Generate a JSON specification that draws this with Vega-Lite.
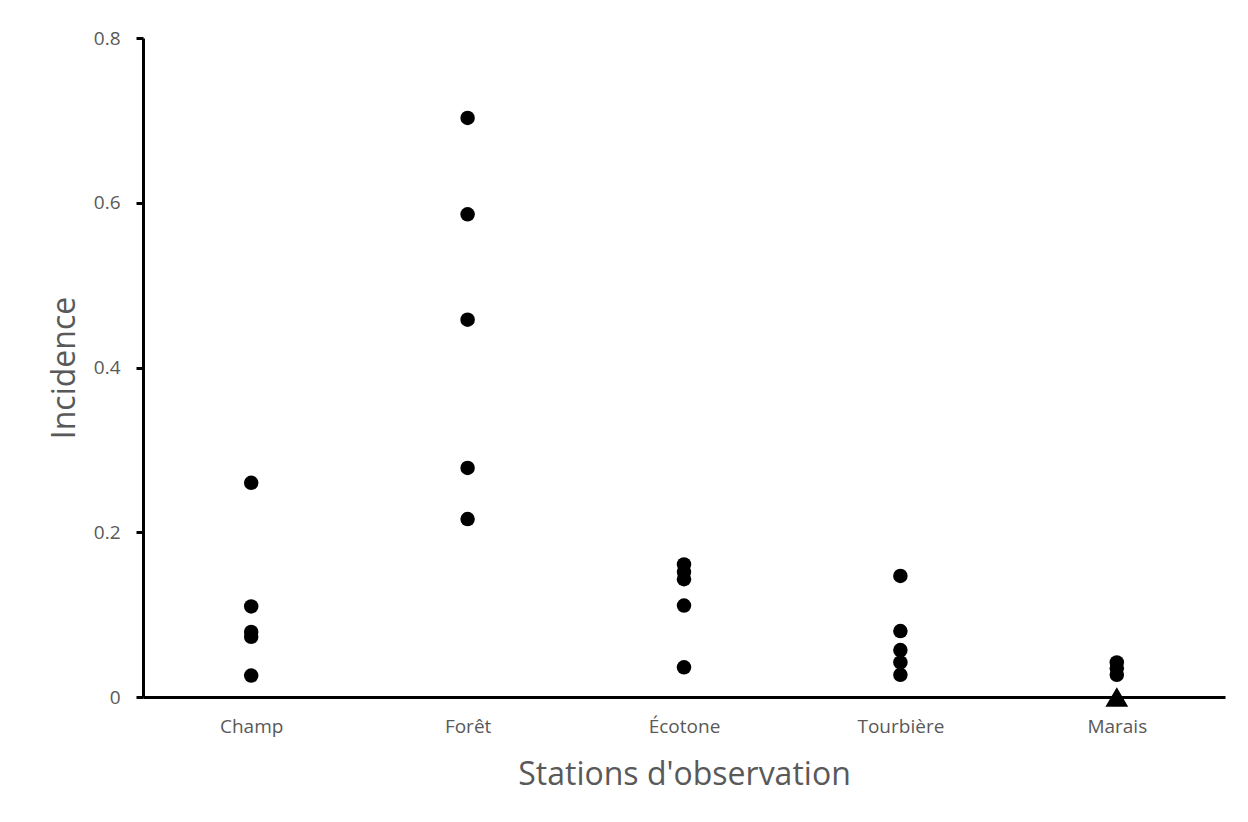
{
  "$schema": "https://vega.github.io/schema/vega-lite/v6.json",
  "autosize": "none",
  "width": 1082,
  "height": 659,
  "padding": {"left": 143, "top": 38, "right": 23, "bottom": 125},
  "background": "white",
  "config": {"view": {"stroke": null}, "font": "Open Sans"},
  "data": {"values": [
    {"station": "Champ", "incidence": 0.260, "type": "obs"},
    {"station": "Champ", "incidence": 0.110, "type": "obs"},
    {"station": "Champ", "incidence": 0.079, "type": "obs"},
    {"station": "Champ", "incidence": 0.073, "type": "obs"},
    {"station": "Champ", "incidence": 0.026, "type": "obs"},
    {"station": "Forêt", "incidence": 0.703, "type": "obs"},
    {"station": "Forêt", "incidence": 0.586, "type": "obs"},
    {"station": "Forêt", "incidence": 0.458, "type": "obs"},
    {"station": "Forêt", "incidence": 0.278, "type": "obs"},
    {"station": "Forêt", "incidence": 0.216, "type": "obs"},
    {"station": "Écotone", "incidence": 0.161, "type": "obs"},
    {"station": "Écotone", "incidence": 0.152, "type": "obs"},
    {"station": "Écotone", "incidence": 0.143, "type": "obs"},
    {"station": "Écotone", "incidence": 0.111, "type": "obs"},
    {"station": "Écotone", "incidence": 0.036, "type": "obs"},
    {"station": "Tourbière", "incidence": 0.147, "type": "obs"},
    {"station": "Tourbière", "incidence": 0.080, "type": "obs"},
    {"station": "Tourbière", "incidence": 0.057, "type": "obs"},
    {"station": "Tourbière", "incidence": 0.042, "type": "obs"},
    {"station": "Tourbière", "incidence": 0.027, "type": "obs"},
    {"station": "Marais", "incidence": 0.042, "type": "obs"},
    {"station": "Marais", "incidence": 0.035, "type": "obs"},
    {"station": "Marais", "incidence": 0.027, "type": "obs"},
    {"station": "Marais", "incidence": 0.0, "type": "zero"}
  ]},
  "mark": {"type": "point", "filled": true, "opacity": 1, "color": "black"},
  "encoding": {
    "x": {
      "field": "station", "type": "nominal",
      "sort": ["Champ", "Forêt", "Écotone", "Tourbière", "Marais"],
      "scale": {"paddingInner": 0, "paddingOuter": 0},
      "axis": {
        "title": "Stations d'observation",
        "titleFontSize": 32, "titleFontWeight": "normal", "titleColor": "#595959", "titlePadding": 23,
        "labelFontSize": 19, "labelColor": "#595959", "labelPadding": 20, "labelAngle": 0,
        "ticks": false, "domainColor": "black", "domainWidth": 3, "grid": false
      }
    },
    "y": {
      "field": "incidence", "type": "quantitative",
      "scale": {"domain": [0, 0.8], "nice": false, "zero": true},
      "axis": {
        "title": "Incidence",
        "values": [0, 0.2, 0.4, 0.6, 0.8],
        "format": ".1~f",
        "titleFontSize": 32, "titleFontWeight": "normal", "titleColor": "#595959", "titlePadding": 12,
        "labelFontSize": 19, "labelColor": "#595959", "labelPadding": 16,
        "tickSize": 7, "tickWidth": 3, "tickColor": "black",
        "domainColor": "black", "domainWidth": 3, "grid": false
      }
    },
    "shape": {
      "field": "type", "type": "nominal",
      "scale": {"domain": ["obs", "zero"], "range": ["circle", "triangle-up"]},
      "legend": null
    },
    "size": {
      "field": "type", "type": "nominal",
      "scale": {"domain": ["obs", "zero"], "range": [210, 520]},
      "legend": null
    }
  }
}
